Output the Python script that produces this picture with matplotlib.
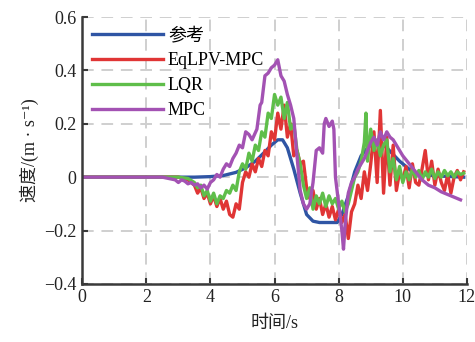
import numpy as np
import matplotlib
matplotlib.use("Agg")
import matplotlib.pyplot as plt

plt.rcParams['font.family'] = ['Liberation Serif', 'Noto Sans CJK SC', 'DejaVu Sans']

# reference speed
t_ref = [0, 3.5, 4.0, 4.4, 4.8, 5.1, 5.4, 5.7, 5.9, 6.1, 6.25, 6.4, 6.6, 6.8, 7.0,
         7.2, 7.4, 7.7, 7.95, 8.1, 8.3, 8.5, 8.7, 8.9, 9.1, 9.3, 9.5, 9.7, 9.9,
         10.1, 10.3, 10.6, 11.0, 11.9]
v_ref = [0, 0, 0.002, 0.006, 0.018, 0.035, 0.06, 0.095, 0.12, 0.14, 0.14, 0.11,
         0.03, -0.06, -0.14, -0.165, -0.17, -0.17, -0.17, -0.14, -0.07, 0.02,
         0.08, 0.11, 0.13, 0.13, 0.11, 0.085, 0.06, 0.04, 0.02, 0.01, 0.005, 0.0]

# EqLPV-MPC
t_eq = [0, 3.0, 3.3, 3.5, 3.6, 3.7, 3.8, 3.9, 4.0, 4.1, 4.2, 4.3, 4.4, 4.5, 4.6,
        4.7, 4.8, 4.9, 5.0, 5.1, 5.2, 5.3, 5.4, 5.5, 5.6, 5.7, 5.8, 5.9, 6.0,
        6.1, 6.2, 6.3, 6.4, 6.5, 6.6, 6.7, 6.8, 6.9, 7.0, 7.1, 7.2, 7.3, 7.4,
        7.5, 7.6, 7.7, 7.8, 7.9, 8.0, 8.1, 8.2, 8.3, 8.4, 8.5, 8.6, 8.7, 8.8,
        8.9, 9.0, 9.1, 9.2, 9.3, 9.4, 9.5, 9.6, 9.7, 9.8, 9.9, 10.0, 10.1, 10.2,
        10.3, 10.4, 10.5, 10.6, 10.7, 10.8, 10.9, 11.0, 11.1, 11.2, 11.3, 11.4,
        11.5, 11.6, 11.7, 11.8, 11.9]
v_eq = [0, 0, -0.01, -0.03, -0.06, -0.04, -0.08, -0.06, -0.1, -0.07, -0.11,
        -0.08, -0.12, -0.09, -0.14, -0.15, -0.1, -0.12, -0.02, 0.02, 0.0, 0.05,
        0.02, 0.07, 0.04, 0.1, 0.08, 0.17, 0.14, 0.24, 0.18, 0.27, 0.15, 0.2,
        0.08, 0.1, 0.05, 0.06, -0.04, -0.08, -0.05, -0.12, -0.08, -0.14, -0.1,
        -0.15, -0.11, -0.16, -0.12, -0.17, -0.14, -0.23, -0.13, -0.1, -0.03,
        -0.08, 0.02, -0.05, 0.05, 0.17, -0.02, 0.25, -0.06, 0.15, -0.03, 0.12,
        -0.05, 0.02, -0.01, 0.04, -0.04, 0.05, -0.02, -0.03, 0.03, 0.1, -0.01,
        0.06, -0.03, 0.03, -0.02, -0.05, 0.01, -0.06, 0.0, 0.025, -0.01, 0.02]

# LQR
t_lqr = [0, 3.0, 3.3, 3.5, 3.6, 3.7, 3.8, 3.9, 4.0, 4.1, 4.2, 4.3, 4.4, 4.5,
         4.6, 4.7, 4.8, 4.9, 5.0, 5.1, 5.2, 5.3, 5.4, 5.5, 5.6, 5.7, 5.8, 5.9,
         6.0, 6.1, 6.2, 6.3, 6.4, 6.5, 6.6, 6.7, 6.8, 6.9, 7.0, 7.1, 7.2, 7.3,
         7.4, 7.5, 7.6, 7.7, 7.8, 7.9, 8.0, 8.1, 8.2, 8.3, 8.4, 8.5, 8.6, 8.7,
         8.8, 8.85, 8.9, 9.0, 9.1, 9.2, 9.3, 9.4, 9.5, 9.6, 9.7, 9.8, 9.9, 10.0,
         10.1, 10.2, 10.3, 10.4, 10.5, 10.6, 10.7, 10.8, 10.9, 11.0, 11.1, 11.2,
         11.3, 11.4, 11.5, 11.6, 11.7, 11.8, 11.9]
v_lqr = [0, 0, -0.005, -0.02, -0.04, -0.03, -0.07, -0.05, -0.09, -0.06, -0.1,
         -0.07, -0.08, -0.05, -0.06, -0.03, -0.05, 0.02, 0.05, 0.03, 0.09, 0.06,
         0.12, 0.1, 0.17, 0.15, 0.24, 0.22, 0.31, 0.27, 0.3, 0.22, 0.28, 0.18,
         0.2, 0.1, 0.05, -0.03, -0.08, -0.04, -0.12, -0.07, -0.1, -0.06, -0.11,
         -0.07, -0.1, -0.08, -0.12, -0.09, -0.13, -0.1, -0.05, 0.0, 0.02, 0.06,
         0.13, 0.24, 0.06, 0.18, 0.1, 0.14, 0.08, 0.12, 0.14, 0.02, 0.07, -0.01,
         0.04, -0.02, 0.02, -0.01, 0.03, 0.0, 0.025, -0.01, 0.02, 0.0, 0.03,
         -0.005, 0.02, 0.0, 0.025, 0.005, 0.02, 0.0, 0.02, 0.01, 0.015]

# MPC
t_mpc = [0, 2.0, 2.5, 2.7, 2.9, 3.0, 3.1, 3.2, 3.3, 3.4, 3.5, 3.6, 3.7, 3.8,
         3.9, 4.0, 4.1, 4.2, 4.3, 4.4, 4.5, 4.6, 4.7, 4.8, 4.9, 5.0, 5.1, 5.2,
         5.3, 5.45, 5.55, 5.6, 5.7, 5.8, 5.9, 6.0, 6.1, 6.2, 6.3, 6.4, 6.5, 6.6,
         6.7, 6.8, 6.9, 7.0, 7.1, 7.2, 7.3, 7.4, 7.5, 7.55, 7.6, 7.7, 7.8, 7.85,
         7.9, 8.0, 8.1, 8.15, 8.2, 8.3, 8.4, 8.5, 8.6, 8.7, 8.8, 8.9, 9.0, 9.1,
         9.2, 9.3, 9.4, 9.5, 9.6, 9.7, 9.8, 10.0, 10.2, 10.4, 10.6, 10.8, 11.0,
         11.2, 11.4, 11.6, 11.8]
v_mpc = [0, 0, 0.0, -0.005, -0.01, -0.02, -0.01, -0.015, -0.025, -0.02, -0.03,
         -0.025, -0.04, -0.03, -0.045, -0.02, -0.01, 0.01, 0.0, 0.03, 0.05, 0.04,
         0.07, 0.09, 0.12, 0.11, 0.17, 0.16, 0.14, 0.18, 0.27, 0.28, 0.38, 0.39,
         0.41, 0.42, 0.44, 0.38, 0.36, 0.31, 0.27, 0.22, 0.08, -0.05, -0.1,
         -0.12, -0.1, -0.02, 0.1, 0.11, 0.09, 0.2, 0.22, 0.19, 0.21, 0.18, 0.0,
         -0.1, -0.2, -0.27, -0.18, -0.06, -0.02, 0.0, 0.03, 0.05, 0.07, 0.1,
         0.13, 0.15, 0.12, 0.17, 0.14, 0.17, 0.15, 0.14, 0.12, 0.08, 0.05, 0.02,
         -0.01, -0.03, -0.04, -0.055, -0.065, -0.075, -0.085]

labels = ['参考', 'EqLPV-MPC', 'LQR', 'MPC']
colors = ['#2f55a4', '#e03535', '#5fbe4a', '#a352b3']

xticks = [0, 2, 4, 6, 8, 10, 12]
yticks = [-0.4, -0.2, 0, 0.2, 0.4, 0.6]
ytick_labels = ['\u22120.4', '\u22120.2', '0', '0.2', '0.4', '0.6']

fig = plt.figure(figsize=(4.75, 3.42), dpi=100)
ax = fig.add_axes([0.173, 0.170, 0.810, 0.780])

series = [(t_ref, v_ref), (t_eq, v_eq), (t_lqr, v_lqr), (t_mpc, v_mpc)]
for (t, v), lab, c in zip(series, labels, colors):
    ax.plot(t, v, color=c, lw=2.4, label=lab, solid_joinstyle='round')

ax.set_xlim(0, 12)
ax.set_ylim(-0.4, 0.6)
ax.set_xticks(xticks)
ax.set_xticklabels([str(x) for x in xticks])
ax.set_yticks(yticks)
ax.set_yticklabels(ytick_labels)
ax.grid(True, color='#cfcfcf', lw=1.4, ls=(0, (6, 4)))
ax.set_axisbelow(True)

for s in ['top', 'right']:
    ax.spines[s].set_visible(False)
for s in ['left', 'bottom']:
    ax.spines[s].set_color('#3a3a3a')
    ax.spines[s].set_linewidth(1.8)
ax.tick_params(direction='in', length=4, width=1.5, color='#3a3a3a',
               labelsize=13, labelcolor='#222222', pad=4)

ax.set_xlabel('时间/s', fontsize=13, color='#222222', labelpad=6)
ax.set_ylabel('速度/(m · s\u207b\u00b9)', fontsize=13, color='#222222', labelpad=4)

ax.legend(loc='upper left', frameon=False, fontsize=13, handlelength=3.9,
          handletextpad=0.3, labelspacing=0.45, borderaxespad=0.15,
          bbox_to_anchor=(0.0, 1.0))

fig.savefig('out.png', dpi=100)
